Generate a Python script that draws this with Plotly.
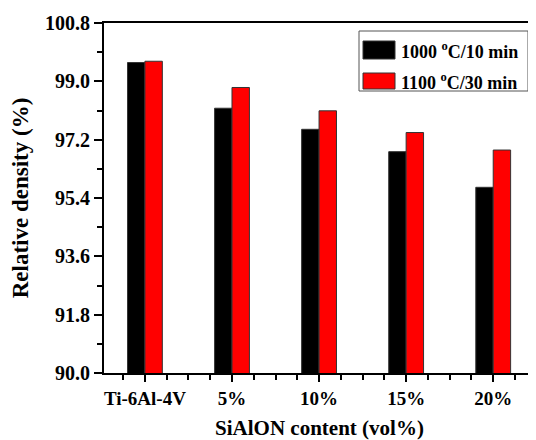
import plotly.graph_objects as go

categories = ["Ti-6Al-4V", "5%", "10%", "15%", "20%"]
series_names = ["1000 <sup>o</sup>C/10 min", "1100 <sup>o</sup>C/30 min"]
density_1000 = [99.58, 98.17, 97.52, 96.83, 95.73]
density_1100 = [99.62, 98.81, 98.09, 97.42, 96.88]
y_ticks = [90.0, 91.8, 93.6, 95.4, 97.2, 99.0, 100.8]
colors = ["#000000", "#ff0000"]

FONT = "Liberation Serif"
x_idx = list(range(len(categories)))

fig = go.Figure()
for name, vals, col in zip(series_names, [density_1000, density_1100], colors):
    fig.add_trace(go.Bar(
        x=x_idx, y=vals, name=name, base=0,
        marker=dict(color=col, line=dict(color="#333333", width=1)),
        showlegend=False,
    ))

# page has an 8px body margin; plot area spans page x 104-535, y 23-373
W, H = 528, 432
L, R, T, B = 96, 1, 15, 67
PW, PH = W - L - R, H - T - B

fig.update_layout(
    width=W, height=H,
    margin=dict(l=L, r=R, t=T, b=B, autoexpand=False),
    paper_bgcolor="white", plot_bgcolor="white",
    barmode="group", bargap=0.6, bargroupgap=0,
    font=dict(family=FONT, color="black"),
)
fig.update_xaxes(
    range=[-0.47, 4.48], automargin=False,
    tickvals=x_idx, ticktext=categories,
    tickfont=dict(family=FONT, size=19, color="black", weight="bold"),
    ticks="outside", ticklen=7, tickwidth=1.5, tickcolor="black",
    minor=dict(dtick=0.25, tick0=0, ticks="outside", ticklen=5, tickwidth=1.5, tickcolor="black"),
    showline=True, linecolor="black", linewidth=2, mirror=True,
    showgrid=False, zeroline=False,
    title=dict(text="SiAlON content (vol%)", font=dict(family=FONT, size=21, color="black", weight="bold"), standoff=13),
)
fig.update_yaxes(
    range=[90.0, 100.8], automargin=False,
    tickvals=y_ticks, ticktext=[f"{v:.1f}" for v in y_ticks],
    tickfont=dict(family=FONT, size=20, color="black", weight="bold"),
    ticks="outside", ticklen=8, tickwidth=1.5, tickcolor="black",
    minor=dict(dtick=0.9, tick0=90.0, ticks="outside", ticklen=5, tickwidth=1.5, tickcolor="black"),
    showline=True, linecolor="black", linewidth=2, mirror=True,
    showgrid=False, zeroline=False,
    title=dict(text="Relative density (%)", font=dict(family=FONT, size=23, color="black", weight="bold"), standoff=10),
)

def px_x(x):
    return (x - 104) / PW

def px_y(y):
    return (373 - y) / PH

# custom legend (box, swatches, labels)
fig.add_shape(type="rect", xref="paper", yref="paper",
              x0=px_x(359), x1=px_x(528), y0=px_y(91), y1=px_y(31),
              line=dict(color="#555555", width=1), fillcolor="white")
sw = [(41, 59), (73, 89)]
for (t, b), name, col in zip(sw, series_names, colors):
    fig.add_shape(type="rect", xref="paper", yref="paper",
                  x0=px_x(363), x1=px_x(395), y0=px_y(b), y1=px_y(t),
                  line=dict(color="#333333", width=1), fillcolor=col)
    fig.add_annotation(xref="paper", yref="paper", x=px_x(399), y=px_y((t + b) / 2),
                       text=name, showarrow=False, xanchor="left", yanchor="middle",
                       font=dict(family=FONT, size=18, color="black", weight="bold"))

fig.write_html("out.html")
